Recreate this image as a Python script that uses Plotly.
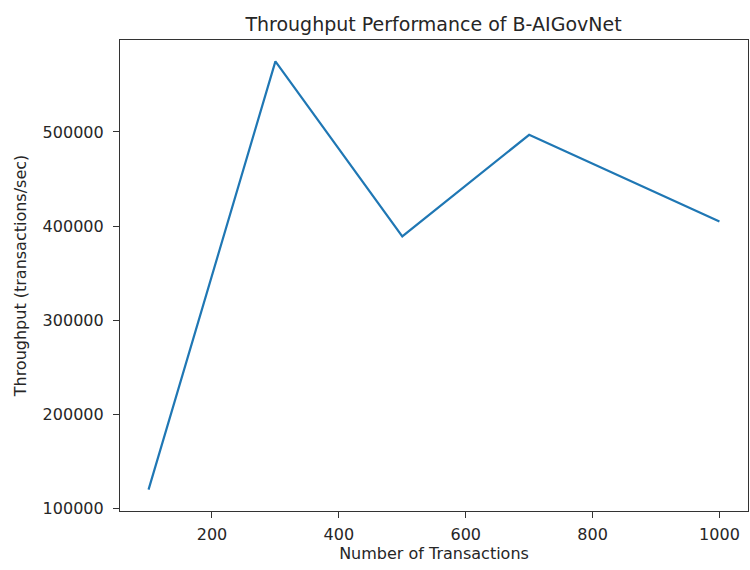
import plotly.graph_objects as go

transactions = [100, 300, 500, 700, 1000]
throughput = [120000, 575000, 389000, 497000, 405000]
x_ticks = [200, 400, 600, 800, 1000]
y_ticks = [100000, 200000, 300000, 400000, 500000]

font_family = "DejaVu Sans"
fig = go.Figure()
fig.add_trace(go.Scatter(
    x=transactions, y=throughput, mode="lines",
    line=dict(color="#1f77b4", width=2.2),
))

axis_common = dict(
    showgrid=False, zeroline=False, showline=True, linecolor="#333333",
    linewidth=1.2, mirror=True, ticks="outside", ticklen=6, tickwidth=1.2,
    tickcolor="#333333", tickfont=dict(family=font_family, size=16, color="#262626"),
)

fig.update_layout(
    width=750, height=570,
    margin=dict(l=120, r=2, t=40, b=59),
    paper_bgcolor="white", plot_bgcolor="white",
    showlegend=False,
    title=dict(text="Throughput Performance of B-AIGovNet", x=0.578, xanchor="center",
               y=0.958, yanchor="middle",
               font=dict(family=font_family, size=19, color="#262626")),
    xaxis=dict(range=[55, 1045], tickvals=x_ticks, ticktext=[str(v) for v in x_ticks],
               ticklabelstandoff=3,
               title=dict(text="Number of Transactions", standoff=4,
                          font=dict(family=font_family, size=16, color="#262626")),
               **axis_common),
    yaxis=dict(range=[97250, 597750], tickvals=y_ticks, ticktext=[str(v) for v in y_ticks],
               ticklabelstandoff=6,
               title=dict(text="Throughput (transactions/sec)", standoff=12,
                          font=dict(family=font_family, size=16, color="#262626")),
               **axis_common),
)

fig.write_html("out.html")
